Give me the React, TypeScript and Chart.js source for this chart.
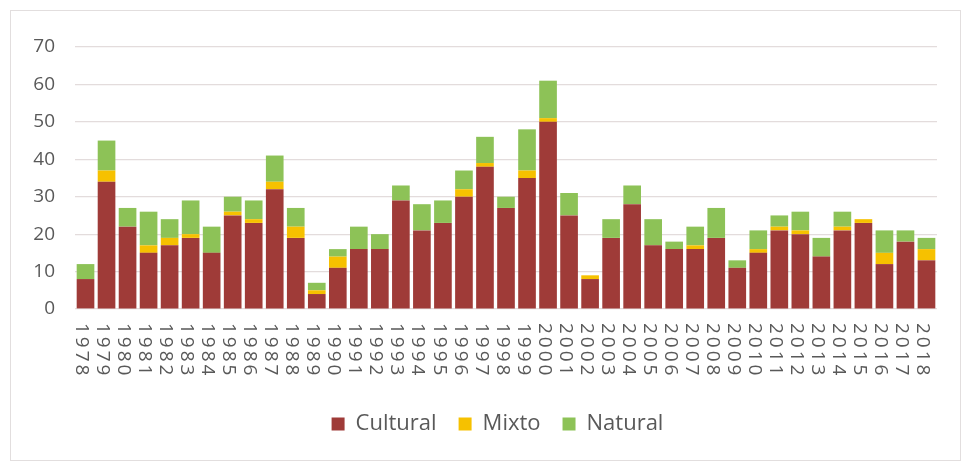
import React, { useEffect, useRef } from "react";
import { Chart, registerables } from "chart.js";

Chart.register(...registerables);

const years = [
  "1978", "1979", "1980", "1981", "1982", "1983", "1984", "1985", "1986", "1987",
  "1988", "1989", "1990", "1991", "1992", "1993", "1994", "1995", "1996", "1997",
  "1998", "1999", "2000", "2001", "2002", "2003", "2004", "2005", "2006", "2007",
  "2008", "2009", "2010", "2011", "2012", "2013", "2014", "2015", "2016", "2017",
  "2018",
];

const cultural = [
  8, 34, 22, 15, 17, 19, 15, 25, 23, 32, 19, 4, 11,
  16, 16, 29, 21, 23, 30, 38, 27, 35, 50,
  25, 8, 19, 28, 17, 16, 16, 19, 11, 15,
  21, 20, 14, 21, 23, 12, 18, 13,
];

const mixto = [
  0, 3, 0, 2, 2, 1, 0, 1, 1, 2, 3, 1, 3,
  0, 0, 0, 0, 0, 2, 1, 0, 2, 1,
  0, 1, 0, 0, 0, 0, 1, 0, 0, 1,
  1, 1, 0, 1, 1, 3, 0, 3,
];

const natural = [
  4, 8, 5, 9, 5, 9, 7, 4, 5, 7, 5, 2, 2,
  6, 4, 4, 7, 6, 5, 7, 3, 11, 10,
  6, 0, 5, 5, 7, 2, 5, 8, 2, 5,
  3, 5, 5, 4, 0, 6, 3, 3,
];

const yTicks = [0, 10, 20, 30, 40, 50, 60, 70];

const FONT = "'Open Sans', 'DejaVu Sans', sans-serif";
const TEXT = "#595959";

const rotatedLabels = {
  id: "rotatedLabels",
  afterLayout(chart: any) {
    const lg = chart.legend;
    if (lg) {
      lg.left += 58;
    }
  },
  afterDraw(chart: any) {
    const ctx = chart.ctx;
    const xs = chart.scales.x;
    const top = chart.chartArea.bottom + 14;
    ctx.save();
    ctx.fillStyle = TEXT;
    ctx.font = `19px ${FONT}`;
    try {
      (ctx as any).letterSpacing = "3px";
    } catch (e) {}
    ctx.textAlign = "left";
    ctx.textBaseline = "middle";
    years.forEach((lab, i) => {
      const x = xs.getPixelForValue(i) - 4;
      ctx.save();
      ctx.translate(x, top);
      ctx.rotate(Math.PI / 2);
      ctx.fillText(lab, 0, 0);
      ctx.restore();
    });
    ctx.restore();
  },
};

export default function App() {
  const ref = useRef<HTMLCanvasElement | null>(null);

  useEffect(() => {
    if (!ref.current) return;
    const chart = new Chart(ref.current, {
      type: "bar",
      data: {
        labels: years,
        datasets: [
          {
            label: "Cultural",
            data: cultural,
            backgroundColor: "#9f3b38",
            barPercentage: 0.84,
            categoryPercentage: 1,
          },
          {
            label: "Mixto",
            data: mixto,
            backgroundColor: "#f6c100",
            barPercentage: 0.84,
            categoryPercentage: 1,
          },
          {
            label: "Natural",
            data: natural,
            backgroundColor: "#8dc257",
            barPercentage: 0.84,
            categoryPercentage: 1,
          },
        ],
      },
      options: {
        animation: false,
        responsive: true,
        maintainAspectRatio: false,
        layout: { padding: { left: 0, right: 32, top: 47, bottom: 20 } },
        plugins: {
          tooltip: { enabled: false },
          legend: {
            position: "bottom",
            labels: {
              boxWidth: 13,
              boxHeight: 13,
              padding: 22,
              color: TEXT,
              font: { family: FONT, size: 22 },
            },
          },
        },
        scales: {
          x: {
            stacked: true,
            grid: { display: false },
            border: { display: false },
            ticks: { display: false },
            afterFit: (s: any) => {
              s.height = 82;
            },
          },
          y: {
            stacked: true,
            min: 0,
            max: 70,
            afterBuildTicks: (s: any) => {
              s.ticks = yTicks.map((v) => ({ value: v }));
            },
            grid: { color: "#e3dcdc", drawTicks: false, lineWidth: 1.2 },
            border: { display: false },
            ticks: {
              color: TEXT,
              padding: 20,
              font: { family: FONT, size: 19 },
            },
            afterFit: (s: any) => {
              s.width = 75;
            },
          },
        },
      },
      plugins: [rotatedLabels],
    });
    return () => chart.destroy();
  }, []);

  return (
    <div
      style={{
        position: "absolute",
        left: 0,
        top: 0,
        width: 969,
        height: 465,
        background: "#ffffff",
      }}
    >
      <div
        style={{
          position: "absolute",
          left: 10,
          top: 10,
          width: 951,
          height: 451,
          border: "1px solid #e2dede",
          boxSizing: "border-box",
        }}
      />
      <div style={{ position: "absolute", left: 0, top: 0, width: 969, height: 465 }}>
        <canvas ref={ref} />
      </div>
    </div>
  );
}
